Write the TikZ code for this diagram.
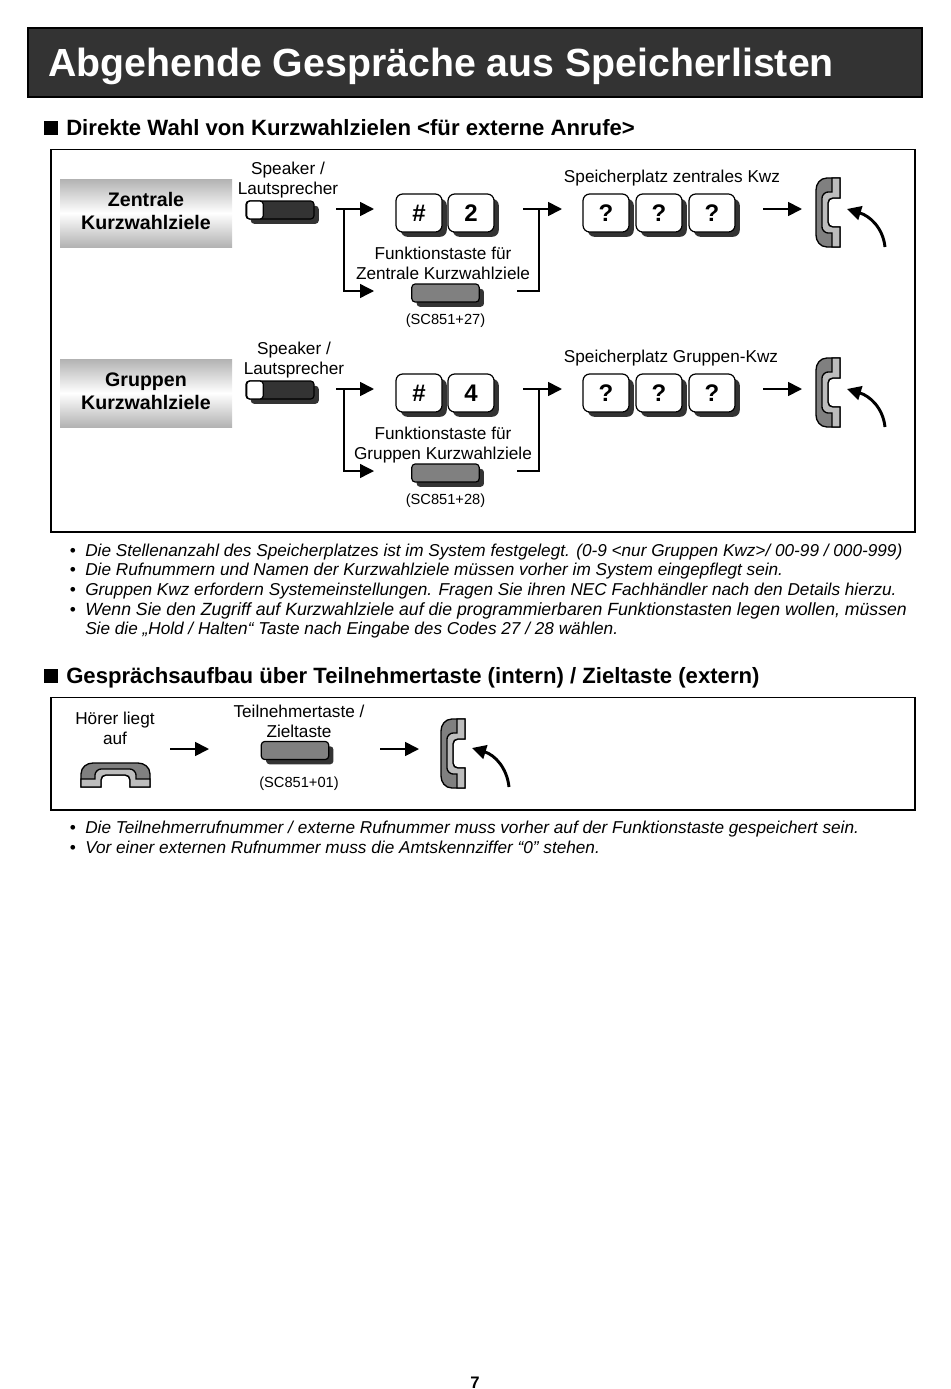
\documentclass[tikz,border=0pt]{standalone}
\usepackage{fontspec}
\setmainfont{Liberation Sans}
\usetikzlibrary{arrows.meta,shadows}
\definecolor{headbar}{HTML}{333333}
\definecolor{keydark}{HTML}{808080}
\definecolor{keylight}{HTML}{BDBDBD}
\tikzset{
    darkshadow/.style={drop shadow={shadow xshift=3.6pt, shadow yshift=-3.6pt, opacity=1, fill=headbar}},
    keycap/.style={draw, line width=0.9pt, rounded corners=5pt, fill=white, inner sep=0pt, minimum width=34.5pt,
        minimum height=28.5pt, font=\fontsize{18}{20}\selectfont\bfseries, darkshadow},
    funckey/.style={draw, line width=0.9pt, rounded corners=2.5pt, fill=keydark, inner sep=0pt, minimum width=50.5pt,
        minimum height=13.5pt, darkshadow},
    speakerbar/.style={funckey, fill=headbar, minimum width=51pt},
    speakercap/.style={draw, line width=0.9pt, rounded corners=2.5pt, fill=white, inner sep=0pt, minimum width=12.5pt,
        minimum height=13.5pt},
    label/.style={align=center, inner sep=0pt, font=\fontsize{12.9}{15}\selectfont},
    code/.style={inner sep=0pt, font=\fontsize{11}{12}\selectfont},
    bullet/.style={anchor=base west, inner sep=0pt, font=\fontsize{12.9}{15}\selectfont\itshape},
    section/.style={anchor=base west, inner sep=0pt, font=\fontsize{16.6}{20}\selectfont\bfseries},
    frame/.style={draw, line width=1pt},
    groupbox/.style={inner sep=0pt, minimum width=129pt, minimum height=51pt, align=center,
        top color=black!30, bottom color=black!30, middle color=white},
    grouptext/.style={align=center, inner sep=0pt, font=\fontsize{14.7}{17.3}\selectfont\bfseries},
    flow/.style={line width=1.3pt, -{Triangle[length=10.5pt,width=10.5pt]}},
    link/.style={line width=1pt},
    pickup/.style={line width=2.2pt, -{Triangle[length=10.5pt,width=10.5pt]}},
    handset/.pic={
        \draw[line width=1pt, fill=keydark] (24,0) -- (11,0) .. controls (4,0) and (0,6) .. (0,12)
            -- (0,57) .. controls (0,63) and (4,69) .. (11,69) -- (24,69) -- (24,49) -- (17,49)
            .. controls (14,49) and (12,47) .. (12,44) -- (12,25) .. controls (12,22) and (14,20) .. (17,20)
            -- (24,20) -- cycle;
        \draw[line width=1pt, fill=keylight] (24,0) -- (16,0) -- (16,14) -- (12,14)
            .. controls (9,14) and (6,17) .. (6,20) -- (6,49) .. controls (6,52) and (9,55) .. (12,55) -- (16,55)
            -- (16,69) -- (24,69) -- (24,49) -- (17,49) .. controls (14,49) and (12,47) .. (12,44) -- (12,25)
            .. controls (12,22) and (14,20) .. (17,20) -- (24,20) -- cycle;
    },
}
\begin{document}
\begin{tikzpicture}[x=0.75pt, y=-0.75pt]
    \useasboundingbox (0,0) rectangle (950,1389);
    % title bar
    \node[draw, line width=1pt, fill=headbar, inner sep=0pt, minimum width=670.5pt, minimum height=51.75pt] (titlebar) at (475,62.5) {};
    \node[anchor=base west, inner sep=0pt, text=white, font=\fontsize{29.45}{32}\selectfont\bfseries] (title) at (48,76) {Abgehende Gespräche aus Speicherlisten};
    % section heads
    \node[fill=black, inner sep=0pt, minimum size=10.5pt] (markone) at (51,127.5) {};
    \node[section] (headone) at (66,135) {Direkte Wahl von Kurzwahlzielen <für externe Anrufe>};
    \node[fill=black, inner sep=0pt, minimum size=10.5pt] (marktwo) at (51,675.5) {};
    \node[section] (headtwo) at (66,683) {Gesprächsaufbau über Teilnehmertaste (intern) / Zieltaste (extern)};
    % frames
    \node[frame, inner sep=0pt, minimum width=648pt, minimum height=287pt] (frameone) at (483,340.5) {};
    \node[frame, inner sep=0pt, minimum width=648pt, minimum height=84.5pt] (frametwo) at (483,753.5) {};
    % the two rows
    \foreach \row/\dy/\dx/\keyno/\boxname/\storename/\codeno/\storex in
        {zen/0/0/2/Zentrale/zentrales Kwz/27/672, grp/180/6/4/Gruppen/Gruppen-Kwz/28/671} {
        \node[groupbox] (box-\row) at (146,213+\dy) {};
        \node[grouptext] (boxtext-\row) at (146,211+\dy) {\boxname\vphantom{p}\\Kurzwahlziele};
        \node[label] (spk-\row) at (288+\dx,180+\dy) {Speaker /\\Lautsprecher};
        \node[speakerbar] (bar-\row) at (280,210+\dy) {};
        \node[speakercap] (cap-\row) at (255,210+\dy) {};
        \node[keycap] (hash-\row) at (419,213+\dy) {\#};
        \node[keycap] (num-\row) at (471,213+\dy) {\keyno};
        \node[label] (func-\row) at (443,265+\dy) {Funktionstaste für\\\boxname{} Kurzwahlziele\vphantom{p}};
        \node[funckey] (fkey-\row) at (445.5,293+\dy) {};
        \node[code] (sc-\row) at (445.5,321+\dy) {(SC851+\codeno)};
        \node[label] (store-\row) at (\storex,178+\dy) {Speicherplatz \storename\vphantom{p}};
        \foreach \i/\kx in {a/606,b/659,c/712}
            \node[keycap] (ask\i-\row) at (\kx,213+\dy) {?};
        \pic at (816,178+\dy) {handset};
        % connectors
        \coordinate (outa-\row) at (336,209+\dy);
        \coordinate (ina-\row) at (374,209+\dy);
        \coordinate (forka-\row) at (344,209+\dy);
        \coordinate (inb-\row) at (374,291+\dy);
        \coordinate (outb-\row) at (523,209+\dy);
        \coordinate (inc-\row) at (562,209+\dy);
        \coordinate (forkb-\row) at (539,209+\dy);
        \coordinate (outc-\row) at (517,291+\dy);
        \coordinate (outd-\row) at (763,209+\dy);
        \coordinate (ind-\row) at (802,209+\dy);
        \coordinate (liftfrom-\row) at (885,247+\dy);
        \coordinate (liftto-\row) at (847,209+\dy);
        \draw[flow] (outa-\row) -- (ina-\row);
        \draw[flow, line width=1pt] (forka-\row) |- (inb-\row);
        \draw[flow] (outb-\row) -- (inc-\row);
        \draw[link] (outc-\row) -| (forkb-\row);
        \draw[flow] (outd-\row) -- (ind-\row);
        \draw[pickup] (liftfrom-\row) .. controls (883,228+\dy) and (870,216+\dy) .. (liftto-\row);
    }
    % notes
    \foreach \y/\note in {551/{Die Stellenanzahl des Speicherplatzes ist im System festgelegt. (0-9 <nur Gruppen Kwz>/ 00-99 / 000-999)},
        570/{Die Rufnummern und Namen der Kurzwahlziele müssen vorher im System eingepflegt sein.},
        590/{Gruppen Kwz erfordern Systemeinstellungen. Fragen Sie ihren NEC Fachhändler nach den Details hierzu.},
        610/{\fontsize{13.25}{15}\selectfont Wenn Sie den Zugriff auf Kurzwahlziele auf die programmierbaren Funktionstasten legen wollen, müssen},
        828/{Die Teilnehmerrufnummer / externe Rufnummer muss vorher auf der Funktionstaste gespeichert sein.},
        848/{Vor einer externen Rufnummer muss die Amtskennziffer “0” stehen.}} {
        \node[bullet] (note-\y) at (85,\y+5) {\note};
        \node[anchor=base, inner sep=0pt, font=\fontsize{13}{14}\selectfont] (dot-\y) at (73,\y+5) {\textbullet};
    }
    \node[bullet] (note-629) at (85,634) {Sie die „Hold / Halten“ Taste nach Eingabe des Codes 27 / 28 wählen.};
    % lower row
    \node[label] (onhook) at (115,728) {Hörer liegt\\auf};
    \begin{scope}[shift={(81,763)}, cm={0,-1,-1,0,(0,0)}]
        \pic[transform shape] {handset};
    \end{scope}
    \coordinate (oute) at (170,749);
    \coordinate (ine) at (209,749);
    \draw[flow] (oute) -- (ine);
    \node[label] (target) at (299,721) {Teilnehmertaste /\\Zieltaste};
    \node[funckey] (tkey) at (295,750.5) {};
    \node[code] (sctarget) at (299,784) {(SC851+01)};
    \coordinate (outf) at (380,749);
    \coordinate (inf) at (419,749);
    \draw[flow] (outf) -- (inf);
    \pic at (441,719) {handset};
    \coordinate (liftfrom) at (509,787);
    \coordinate (liftto) at (472,748);
    \draw[pickup] (liftfrom) .. controls (507,768) and (495,755) .. (liftto);
    % page number
    \node[inner sep=0pt, font=\fontsize{12.5}{14}\selectfont\bfseries] (page) at (475,1383) {7};
\end{tikzpicture}
\end{document}
